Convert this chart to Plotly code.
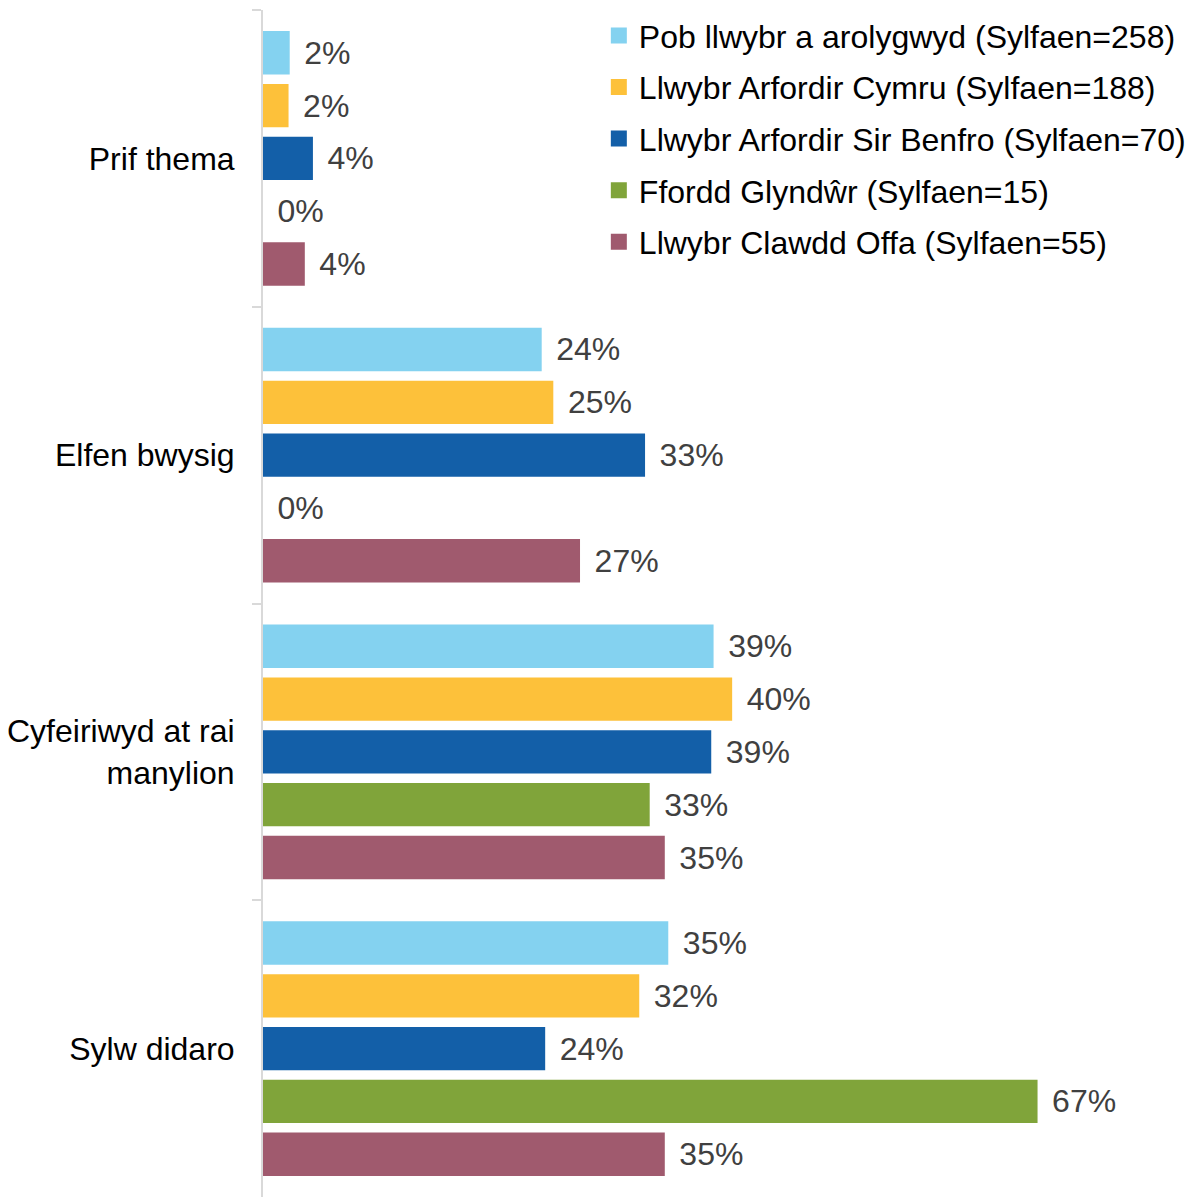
import plotly.graph_objects as go

# categories, top to bottom
categories = ["Prif thema", "Elfen bwysig", "Cyfeiriwyd at rai<br>manylion", "Sylw didaro"]

# series (percentages)
series_names = [
    "Pob llwybr a arolygwyd (Sylfaen=258)",
    "Llwybr Arfordir Cymru (Sylfaen=188)",
    "Llwybr Arfordir Sir Benfro (Sylfaen=70)",
    "Ffordd Glyndŵr (Sylfaen=15)",
    "Llwybr Clawdd Offa (Sylfaen=55)",
]
pob_llwybr = [2.3, 24.0, 38.8, 34.9]
arfordir_cymru = [2.2, 25.0, 40.4, 32.4]
arfordir_benfro = [4.3, 32.9, 38.6, 24.3]
ffordd_glyndwr = [0, 0, 33.3, 66.7]
clawdd_offa = [3.6, 27.3, 34.6, 34.6]

colors = ["#84D2F0", "#FDC13A", "#135FA8", "#80A43A", "#A05A6E"]
series_values = [pob_llwybr, arfordir_cymru, arfordir_benfro, ffordd_glyndwr, clawdd_offa]

FONT = "Liberation Sans, Arial, sans-serif"

fig = go.Figure()

for name, vals, col in zip(series_names, series_values, colors):
    fig.add_trace(go.Bar(
        y=categories, x=vals, orientation="h", name=name,
        marker=dict(color=col, line=dict(width=0)),
        texttemplate="\u00a0\u200a%{x:.0f}%", textposition="outside",
        textfont=dict(family=FONT, size=32, color="#404040"),
        cliponaxis=False, showlegend=False, hoverinfo="skip",
    ))

# legend entries with bigger square swatches
for i, (name, col) in enumerate(zip(series_names, colors)):
    fig.add_trace(go.Scatter(
        x=[None], y=[None], mode="markers", name=name,
        marker=dict(symbol="square", size=16, color=col),
        legendgroup=f"g{i}", showlegend=True,
    ))

fig.update_layout(
    width=1192, height=1197,
    margin=dict(l=263, r=0, t=10, b=0, autoexpand=False),
    plot_bgcolor="white", paper_bgcolor="white",
    barmode="group", bargap=0.11, bargroupgap=0.18,
    font=dict(family=FONT, size=32, color="black"),
    legend=dict(
        x=0.3615, y=1.0016, xanchor="left", yanchor="top",
        traceorder="grouped", tracegroupgap=7,
        bgcolor="rgba(0,0,0,0)", font=dict(family=FONT, size=32, color="black"),
    ),
    xaxis=dict(range=[0, 80], visible=False, showgrid=False, zeroline=False),
    yaxis=dict(
        autorange="reversed", type="category", automargin=False,
        showline=True, linecolor="#D9D9D9", linewidth=2,
        ticks="outside", tickson="boundaries", ticklen=9, tickcolor="#D9D9D9", tickwidth=2,
        ticklabelstandoff=20,
        tickfont=dict(family=FONT, size=32, color="black"),
        showgrid=False, zeroline=False,
    ),
)

# page body margin off so the figure sits at the window origin
fig.write_html("out.html", config={"displayModeBar": False},
               post_script="document.body.style.margin='0';")
